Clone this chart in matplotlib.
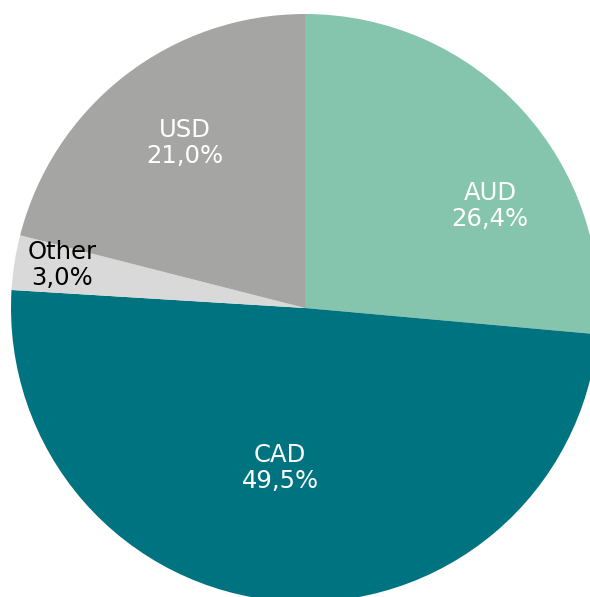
import matplotlib
matplotlib.use("Agg")
import matplotlib.pyplot as plt

# currency split
currencies = ["AUD", "CAD", "Other", "USD"]
shares = [26.4, 49.5, 3.0, 21.0]
colors = ["#86C5AD", "#007380", "#D9D9D9", "#A5A5A3"]
text_colors = ["white", "white", "black", "white"]
# label centres in pixel coordinates (x, y from top)
label_pos = [(490, 206), (280, 468), (62, 265), (185, 143)]

W, H = 590, 597
fig = plt.figure(figsize=(W / 100, H / 100), dpi=100)
ax = fig.add_axes([0, 0, 1, 1])

cx, cy, r = 305, H - 308, 294
ax.pie(shares, colors=colors, startangle=90, counterclock=False,
       center=(cx, cy), radius=r, frame=True,
       wedgeprops=dict(linewidth=0))
ax.set_xlim(0, W)
ax.set_ylim(0, H)
ax.set_aspect("equal")
ax.axis("off")

for name, val, tc, (x, y) in zip(currencies, shares, text_colors, label_pos):
    txt = f"{name}\n{val:.1f}%".replace(".", ",")
    ax.text(x, H - y, txt, ha="center", va="center", color=tc,
            fontsize=17.5, family="DejaVu Sans", linespacing=1.12)

fig.savefig("out.png", dpi=100)
